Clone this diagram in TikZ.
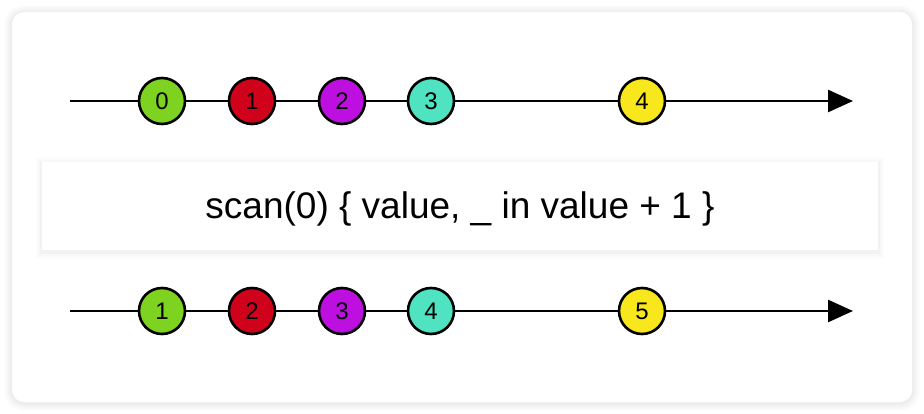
\documentclass[tikz,border=0pt]{standalone}
\usepackage{fontspec}
\setmainfont{Liberation Sans}
\usetikzlibrary{arrows.meta}
\definecolor{cgreen}{HTML}{7ED321}
\definecolor{cred}{HTML}{D0021B}
\definecolor{cpurple}{HTML}{BD10E0}
\definecolor{cteal}{HTML}{50E3C2}
\definecolor{cyellow}{HTML}{F8E71C}
\tikzset{
  marble/.style={circle, draw=black, line width=2.6pt, minimum size=46pt, inner sep=0pt, font=\fontsize{24}{28}\selectfont},
  timeline/.style={line width=2.6pt, -{Triangle[length=25pt,width=22pt]}},
}
\begin{document}
\begin{tikzpicture}[x=1pt,y=-1pt]
\useasboundingbox (0,0) rectangle (924,414);
\fill[white] (0,0) rectangle (924,414);
% card shadow
\foreach \d/\o in {8/0.012,6/0.016,4/0.02,2/0.025}{
  \fill[black, opacity=\o, rounded corners=12+\d] (12-\d,12-\d+1) rectangle (912+\d,402+\d+1);
}
\fill[white, rounded corners=12] (12,12) rectangle (912,402);
% box shadow
\foreach \d/\o in {6/0.012,4/0.016,2/0.025}{
  \fill[black, opacity=\o] (42-\d,162-\d+2) rectangle (878+\d,250+\d+2);
}
\node[fill=white, minimum width=836pt, minimum height=88pt, inner sep=0pt] (op) at (460,206) {};
\node[font=\fontsize{37}{42}\selectfont, inner sep=0pt] (optext) at (460,209) {scan(0) \{ value, \_ in value + 1 \}};
% top timeline
\coordinate (t0) at (70,101);
\coordinate (t1) at (853,101);
\draw[timeline] (t0) -- (t1);
\node[marble, fill=cgreen] (a0) at (162,101) {0};
\node[marble, fill=cred] (a1) at (252,101) {1};
\node[marble, fill=cpurple] (a2) at (342,101) {2};
\node[marble, fill=cteal] (a3) at (431,101) {3};
\node[marble, fill=cyellow] (a4) at (642,101) {4};
% bottom timeline
\coordinate (b0) at (70,311);
\coordinate (b1) at (853,311);
\draw[timeline] (b0) -- (b1);
\node[marble, fill=cgreen] (c0) at (162,311) {1};
\node[marble, fill=cred] (c1) at (252,311) {2};
\node[marble, fill=cpurple] (c2) at (342,311) {3};
\node[marble, fill=cteal] (c3) at (431,311) {4};
\node[marble, fill=cyellow] (c4) at (642,311) {5};
\end{tikzpicture}
\end{document}
